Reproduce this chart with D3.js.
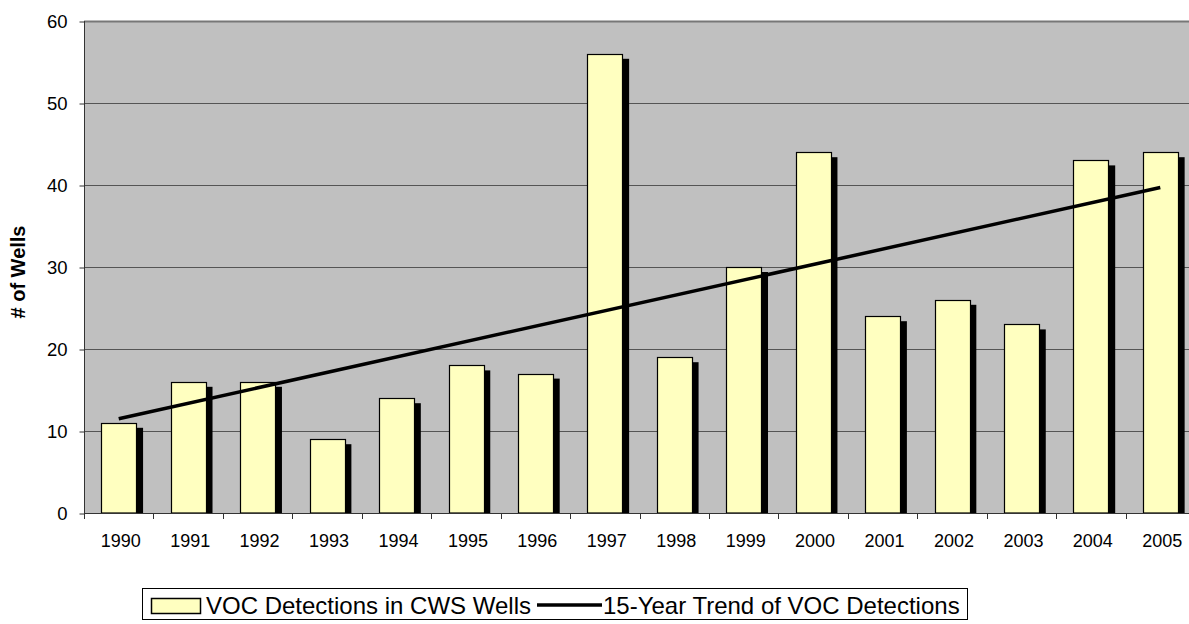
<!DOCTYPE html>
<html lang="en">
<head>
    <meta charset="UTF-8">
    <title>VOC Detections in CWS Wells</title>
    <script src="https://d3js.org/d3.v7.min.js"></script>
    <style>
        body { margin: 0; background: #fff; }
        svg { display: block; font-family: "Liberation Sans", Arial, sans-serif; }
    </style>
</head>
<body>
    <script>
        // data
        let years = ["1990", "1991", "1992", "1993", "1994", "1995", "1996", "1997",
                     "1998", "1999", "2000", "2001", "2002", "2003", "2004", "2005"];
        let detections = [11, 16, 16, 9, 14, 18, 17, 56, 19, 30, 44, 24, 26, 23, 43, 44];
        let trendYears = ["1990", "2005"];
        let trendValues = [11.5, 39.7];
        let yTicks = [0, 10, 20, 30, 40, 50, 60];

        let width = 1189, height = 624;
        let plot = { left: 84, top: 21, right: 1195, bottom: 513 };

        let svg = d3.select("body").append("svg")
                    .attr("width", width)
                    .attr("height", height);

        svg.append("rect")
           .attr("width", width).attr("height", height)
           .attr("fill", "#fff");

        let xScale = d3.scaleBand()
                       .domain(years)
                       .range([plot.left, plot.right])
                       .paddingInner(0.5)
                       .paddingOuter(0.25);
        let yScale = d3.scaleLinear()
                       .domain([0, 60])
                       .range([plot.bottom, plot.top]);

        /* plot area */
        svg.append("rect")
           .attr("x", plot.left).attr("y", plot.top)
           .attr("width", plot.right - plot.left)
           .attr("height", plot.bottom - plot.top)
           .attr("fill", "#c0c0c0");

        /* gridlines */
        svg.append("g")
           .selectAll("line")
           .data(yTicks.filter(d => d > 0))
           .join("line")
           .attr("x1", plot.left).attr("x2", plot.right)
           .attr("y1", d => Math.round(yScale(d)) + 0.5)
           .attr("y2", d => Math.round(yScale(d)) + 0.5)
           .attr("stroke", d => d === 60 ? "#777" : "#555")
           .attr("stroke-width", d => d === 60 ? 2 : 1);

        /* y axis */
        let yAxis = d3.axisLeft(yScale).tickValues(yTicks).tickSize(5).tickPadding(12);
        svg.append("g")
           .attr("transform", `translate(${plot.left + 0.5}, 0.5)`)
           .call(yAxis)
           .call(g => g.select(".domain").attr("stroke", "#333").attr("d", `M0,${plot.top - 0.5}V${plot.bottom}`))
           .call(g => g.selectAll(".tick line").attr("stroke", "#333"))
           .call(g => g.selectAll("text").attr("font-size", 18.5).attr("fill", "#000")
                       .attr("font-family", "Liberation Sans, Arial, sans-serif"));

        /* bars with shadow */
        let shadowDx = 7, shadowDy = 5;
        let bars = svg.append("g");
        bars.selectAll(".shadow")
            .data(detections)
            .join("rect")
            .attr("class", "shadow")
            .attr("x", (d, i) => xScale(years[i]) + shadowDx)
            .attr("y", d => yScale(d) + shadowDy)
            .attr("width", xScale.bandwidth())
            .attr("height", d => plot.bottom - yScale(d) - shadowDy)
            .attr("fill", "#000");
        bars.selectAll(".bar")
            .data(detections)
            .join("rect")
            .attr("class", "bar")
            .attr("x", (d, i) => Math.round(xScale(years[i])) + 0.5)
            .attr("y", d => Math.round(yScale(d)) + 0.5)
            .attr("width", Math.round(xScale.bandwidth()))
            .attr("height", d => plot.bottom - Math.round(yScale(d)) - 0.5)
            .attr("fill", "#ffffc0")
            .attr("stroke", "#000")
            .attr("stroke-width", 1.2);

        /* x axis */
        let xEdge = d3.scaleLinear().domain([0, years.length]).range([plot.left, plot.right]);
        let xAxisG = svg.append("g");
        xAxisG.append("line")
              .attr("x1", plot.left).attr("x2", plot.right)
              .attr("y1", plot.bottom + 0.5).attr("y2", plot.bottom + 0.5)
              .attr("stroke", "#333");
        xAxisG.selectAll(".tk")
              .data(d3.range(years.length + 1))
              .join("line")
              .attr("class", "tk")
              .attr("x1", d => Math.round(xEdge(d)) + 0.5)
              .attr("x2", d => Math.round(xEdge(d)) + 0.5)
              .attr("y1", plot.bottom).attr("y2", plot.bottom + 6)
              .attr("stroke", "#333");
        xAxisG.selectAll("text")
              .data(years)
              .join("text")
              .attr("x", d => xScale(d) + xScale.bandwidth() / 2 + 2)
              .attr("y", 547)
              .attr("text-anchor", "middle")
              .attr("font-size", 18)
              .text(d => d);

        /* trend line */
        svg.append("line")
           .attr("x1", xScale(trendYears[0]) + xScale.bandwidth() / 2)
           .attr("x2", xScale(trendYears[1]) + xScale.bandwidth() / 2)
           .attr("y1", yScale(trendValues[0]))
           .attr("y2", yScale(trendValues[1]))
           .attr("stroke", "#000")
           .attr("stroke-width", 3.5);

        /* y axis title */
        svg.append("text")
           .attr("transform", "translate(25, 272) rotate(-90)")
           .attr("text-anchor", "middle")
           .attr("font-size", 20)
           .attr("font-weight", "bold")
           .text("# of Wells");

        /* legend */
        let legend = svg.append("g");
        legend.append("rect")
              .attr("x", 142.5).attr("y", 588.5)
              .attr("width", 825).attr("height", 31)
              .attr("fill", "#fff").attr("stroke", "#000");
        legend.append("rect")
              .attr("x", 151.5).attr("y", 598.5)
              .attr("width", 49).attr("height", 15)
              .attr("fill", "#ffffc0").attr("stroke", "#000").attr("stroke-width", 1.5);
        legend.append("text")
              .attr("x", 206).attr("y", 614)
              .attr("font-size", 24)
              .text("VOC Detections in CWS Wells");
        legend.append("line")
              .attr("x1", 537).attr("x2", 602)
              .attr("y1", 605).attr("y2", 605)
              .attr("stroke", "#000").attr("stroke-width", 3.5);
        legend.append("text")
              .attr("x", 603).attr("y", 614)
              .attr("font-size", 24)
              .text("15-Year Trend of VOC Detections");
    </script>
</body>
</html>
